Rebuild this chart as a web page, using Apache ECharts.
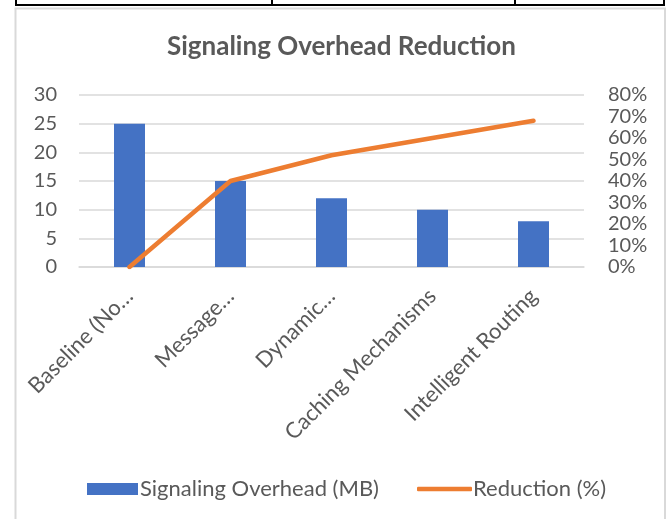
<!DOCTYPE html>
<html>
<head>
<meta charset="utf-8">
<title>Signaling Overhead Reduction</title>
<script src="https://cdn.jsdelivr.net/npm/echarts@6/dist/echarts.min.js"></script>
<style>
  html, body { margin: 0; padding: 0; background: #fff; }
  #chart { width: 667px; height: 519px; }
</style>
</head>
<body>
<div id="chart"></div>
<script>
// Techniques compared (labels as shown, truncated where the axis shortens them)
const categories = ['Baseline (No…', 'Message…', 'Dynamic…', 'Caching Mechanisms', 'Intelligent Routing'];
// Signaling overhead per technique, in MB
const overheadMB = [25, 15, 12, 10, 8];
// Reduction relative to the baseline, in percent
const reductionPct = [0, 40, 52, 60, 68];

const TEXT = '#595959';
const FONT = 'Lato, "Open Sans", sans-serif';

const chart = echarts.init(document.getElementById('chart'), null, { renderer: 'canvas' });

chart.setOption({
  backgroundColor: '#fff',
  animation: false,
  title: {
    text: 'Signaling Overhead Reduction',
    left: 162,
    top: 29,
    textStyle: { color: TEXT, fontFamily: FONT, fontWeight: 'bold', fontSize: 26 }
  },
  legend: [
    {
      top: 473,
      left: 82,
      itemWidth: 51,
      itemHeight: 12,
      textStyle: { color: TEXT, fontFamily: FONT, fontSize: 22, padding: [0, 0, 0, -3] },
      data: [{ name: 'Signaling Overhead (MB)', icon: 'rect' }]
    },
    {
      top: 473,
      left: 412,
      itemWidth: 55,
      itemHeight: 4.5,
      textStyle: { color: TEXT, fontFamily: FONT, fontSize: 22, padding: [0, 0, 0, -4] },
      data: [{ name: 'Reduction (%)', icon: 'roundRect' }]
    }
  ],
  grid: { left: 79, right: 83, top: 95, bottom: 252 },
  xAxis: {
    type: 'category',
    data: categories,
    axisTick: { show: false },
    axisLine: { lineStyle: { color: '#D9D9D9', width: 1.5 } },
    axisLabel: {
      rotate: 45,
      interval: 0,
      margin: 10,
      verticalAlign: 'top',
      padding: [0, 11, 0, 0],
      color: TEXT,
      fontFamily: FONT,
      fontSize: 22
    }
  },
  yAxis: [
    {
      type: 'value',
      min: 0,
      max: 30,
      interval: 5,
      axisLine: { show: false },
      axisTick: { show: false },
      splitLine: { lineStyle: { color: '#D9D9D9', width: 1.5 } },
      axisLabel: { margin: 22, color: TEXT, fontFamily: FONT, fontSize: 20 }
    },
    {
      type: 'value',
      min: 0,
      max: 80,
      interval: 10,
      axisLine: { show: false },
      axisTick: { show: false },
      splitLine: { show: false },
      axisLabel: { margin: 24, color: TEXT, fontFamily: FONT, fontSize: 20, formatter: '{value}%' }
    }
  ],
  series: [
    {
      name: 'Signaling Overhead (MB)',
      type: 'bar',
      yAxisIndex: 0,
      barWidth: 31,
      itemStyle: { color: '#4472C4' },
      data: overheadMB
    },
    {
      name: 'Reduction (%)',
      type: 'line',
      yAxisIndex: 1,
      symbol: 'none',
      lineStyle: { color: '#ED7D31', width: 4.5, cap: 'round', join: 'round' },
      itemStyle: { color: '#ED7D31' },
      data: reductionPct
    }
  ],
  graphic: [
    // chart frame
    { type: 'rect', silent: true, shape: { x: 15.5, y: 8.5, width: 649.5, height: 530 },
      style: { fill: null, stroke: '#D9D9D9', lineWidth: 2 } },
    // surrounding table rules
    { type: 'line', silent: true, shape: { x1: 15, y1: 5, x2: 665, y2: 5 }, style: { stroke: '#000', lineWidth: 2 } },
    { type: 'line', silent: true, shape: { x1: 16, y1: 0, x2: 16, y2: 6 }, style: { stroke: '#000', lineWidth: 2 } },
    { type: 'line', silent: true, shape: { x1: 272, y1: 0, x2: 272, y2: 6 }, style: { stroke: '#000', lineWidth: 2 } },
    { type: 'line', silent: true, shape: { x1: 515, y1: 0, x2: 515, y2: 6 }, style: { stroke: '#000', lineWidth: 2 } },
    { type: 'line', silent: true, shape: { x1: 664, y1: 0, x2: 664, y2: 6 }, style: { stroke: '#000', lineWidth: 2 } }
  ]
});
</script>
</body>
</html>
